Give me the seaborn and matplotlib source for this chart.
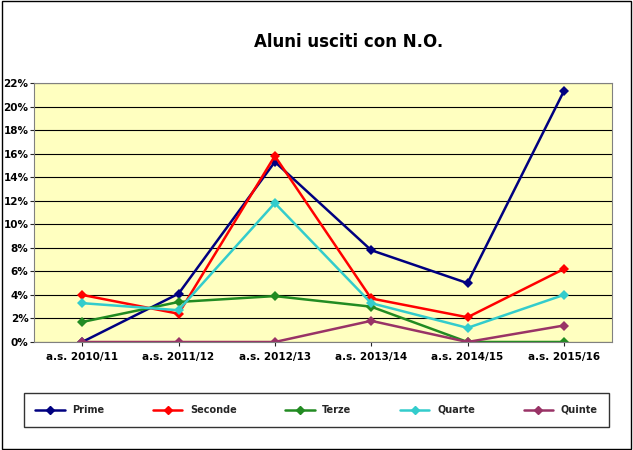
import matplotlib
matplotlib.use("Agg")
import matplotlib.pyplot as plt
import seaborn as sns
import pandas as pd
from matplotlib.ticker import FuncFormatter, MultipleLocator

years = ["a.s. 2010/11", "a.s. 2011/12", "a.s. 2012/13", "a.s. 2013/14", "a.s. 2014/15", "a.s. 2015/16"]
prime = [0.0, 4.1, 15.3, 7.8, 5.0, 21.3]
seconde = [4.0, 2.4, 15.8, 3.7, 2.1, 6.2]
terze = [1.7, 3.4, 3.9, 3.0, 0.0, 0.0]
quarte = [3.3, 2.7, 11.8, 3.3, 1.2, 4.0]
quinte = [0.0, 0.0, 0.0, 1.8, 0.0, 1.4]
names = ["Prime", "Seconde", "Terze", "Quarte", "Quinte"]
colors = ["#000080", "#FF0000", "#228B22", "#33CCCC", "#993366"]

rows = []
for n, vals in zip(names, [prime, seconde, terze, quarte, quinte]):
    for i, v in enumerate(vals):
        rows.append({"x": i, "v": v, "s": n})
df = pd.DataFrame(rows)

sns.set_style("white")
fig = plt.figure(figsize=(6.33, 4.5), dpi=100)
ax = fig.add_axes([34/633, 1-342/450, 578/633, 259/450])
ax.set_facecolor("#FFFFC0")
sns.lineplot(data=df, x="x", y="v", hue="s", palette=colors, marker="D",
             markersize=5, markeredgewidth=0, linewidth=1.8, ax=ax, legend=False)
ax.set_xlim(-0.5, 5.5)
ax.set_ylim(0, 22)
ax.yaxis.set_major_locator(MultipleLocator(2))
ax.yaxis.set_major_formatter(FuncFormatter(lambda v, p: f"{int(v)}%"))
ax.set_xticks(range(6))
ax.set_xticklabels(years, fontweight="bold", fontsize=7.5, color="black")
for t in ax.get_yticklabels():
    t.set_fontsize(7.5)
    t.set_fontweight("bold")
    t.set_color("black")
ax.grid(axis="y", color="black", linewidth=0.8)
ax.set_xlabel("")
ax.set_ylabel("")
for s in ax.spines.values():
    s.set_color("gray")
ax.tick_params(axis="y", length=3, pad=1, left=True)
ax.tick_params(axis="x", length=3, pad=4, bottom=True)
fig.text(0.55, 1-42/450, "Aluni usciti con N.O.", ha="center", va="center",
         fontsize=12, fontweight="bold", color="black")
handles = [plt.Line2D([], [], color=c, marker="D", markersize=4, lw=1.8) for c in colors]
leg = fig.legend(handles, names, loc="center", bbox_to_anchor=(0.5, 1-410/450), ncol=5,
                 frameon=True, fancybox=False, edgecolor="black",
                 prop={"weight": "bold", "size": 7}, columnspacing=5, handlelength=3,
                 borderpad=1.2)
fig.patches.append(plt.Rectangle((0.003, 0.003), 0.994, 0.994, transform=fig.transFigure,
                                 fill=False, edgecolor="black", linewidth=1))
fig.savefig("out.png", dpi=100)
